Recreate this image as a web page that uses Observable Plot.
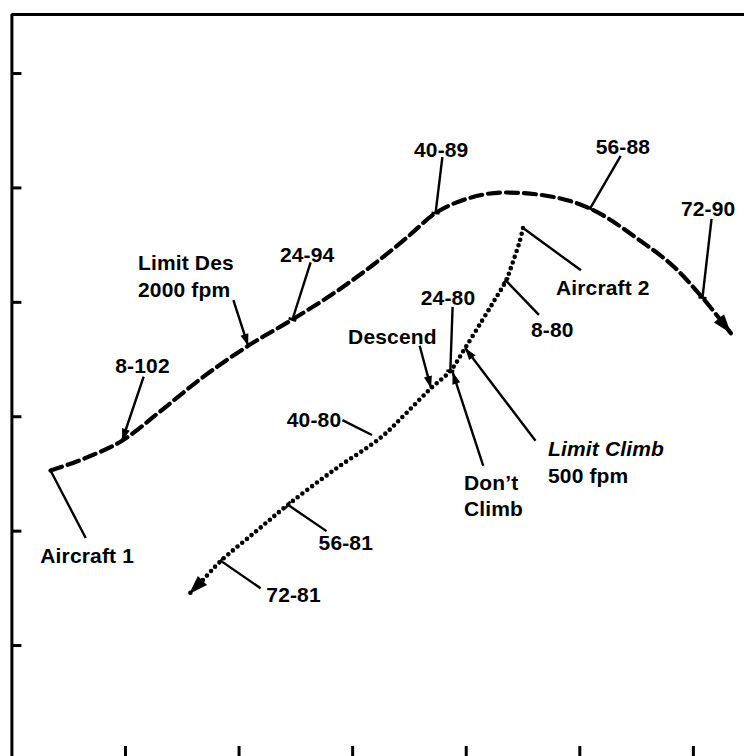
<!DOCTYPE html>
<html><head><meta charset="utf-8">
<script src="https://cdn.jsdelivr.net/npm/d3@7"></script>
<script src="https://cdn.jsdelivr.net/npm/@observablehq/plot@0.6"></script>
<style>
html,body{margin:0;padding:0;background:#fff;}
#chart svg{display:block}
#chart svg text{letter-spacing:0.15px}
</style></head><body><div id="chart"></div>
<script>
// Axis ticks (unlabelled in the original)
const xTicks = [1, 2, 3, 4, 5, 6];
const yTicks = [1, 2, 3, 4, 5, 6];
const xDomain = [0, 6.45];
const yDomain = [0.03, 6.516];

// Aircraft 1 track (dashed)
const aircraft1X = [0.34, 0.65, 0.97, 1.31, 1.66, 2.08, 2.47, 2.85, 3.17, 3.47, 3.73, 3.99, 4.34, 4.65, 5.09, 5.53, 5.84, 6.08, 6.33];
const aircraft1Y = [2.53, 2.64, 2.79, 3.05, 3.33, 3.62, 3.85, 4.09, 4.32, 4.56, 4.78, 4.90, 4.96, 4.94, 4.82, 4.54, 4.30, 4.04, 3.73];

// Aircraft 2 track (dotted)
const aircraft2X = [4.50, 4.47, 4.41, 4.35, 4.25, 4.14, 3.99, 3.86, 3.69, 3.47, 3.25, 2.83, 2.43, 2.14, 1.84, 1.66, 1.56];
const aircraft2Y = [4.65, 4.53, 4.35, 4.19, 4.02, 3.84, 3.60, 3.40, 3.25, 3.03, 2.82, 2.53, 2.23, 1.99, 1.74, 1.55, 1.45];

// Leader lines: from label side to the track
const leaderX1 = [0.65, 1.16, 1.95, 2.63, 3.79, 5.36, 6.16, 5.01, 4.64, 3.88, 3.59, 4.15, 4.61, 2.91, 2.77, 2.19];
const leaderY1 = [1.94, 3.35, 4.02, 4.35, 5.27, 5.28, 4.73, 4.28, 3.89, 3.96, 3.62, 2.57, 2.79, 2.97, 2.00, 1.50];
const leaderX2 = [0.34, 0.97, 2.08, 2.47, 3.73, 5.09, 6.08, 4.50, 4.35, 3.86, 3.69, 3.88, 3.99, 3.17, 2.43, 1.84];
const leaderY2 = [2.53, 2.79, 3.62, 3.85, 4.78, 4.82, 4.04, 4.65, 4.19, 3.40, 3.25, 3.39, 3.60, 2.84, 2.23, 1.74];
const leaderEnd = ["none", "arrow", "arrow", "bar", "bar", "bar", "bar", "none", "bar", "bar", "arrow", "arrow", "arrow", "none", "bar", "bar"];

// Labels (left edge, top of capitals)
const labelText = ["Aircraft 1", "8-102", "Limit Des\n2000 fpm", "24-94", "40-89", "56-88", "72-90", "Aircraft 2", "8-80", "24-80", "Descend", "Don\u2019t\nClimb", "500 fpm", "40-80", "56-81", "72-81"];
const labelX = [0.25, 0.91, 1.11, 2.36, 3.54, 5.14, 5.89, 4.79, 4.57, 3.60, 2.96, 3.98, 4.72, 2.42, 2.70, 2.24];
const labelY = [1.88, 3.54, 4.44, 4.51, 5.43, 5.46, 4.92, 4.23, 3.86, 4.14, 3.80, 2.52, 2.58, 3.07, 2.00, 1.54];
const italicText = ["Limit Climb"];
const italicX = [4.72];
const italicY = [2.79];

// ---- build tables ----
const W = 744, H = 756, mL = 11.4, mR = 0, mT = 14, mB = 0;
const kx = (W - mL - mR) / (xDomain[1] - xDomain[0]);
const ky = (H - mT - mB) / (yDomain[1] - yDomain[0]);
const angle = (x1, y1, x2, y2) => Math.atan2((x2 - x1) * kx, (y2 - y1) * ky) * 180 / Math.PI;

const track1 = aircraft1X.map((x, i) => ({x, y: aircraft1Y[i]}));
const track2 = aircraft2X.map((x, i) => ({x, y: aircraft2Y[i]}));
const leaders = leaderX1.map((x1, i) => ({x1, y1: leaderY1[i], x2: leaderX2[i], y2: leaderY2[i], end: leaderEnd[i],
  rot: angle(x1, leaderY1[i], leaderX2[i], leaderY2[i])}));
const labels = labelText.map((text, i) => ({text, x: labelX[i], y: labelY[i]}));
const italics = italicText.map((text, i) => ({text, x: italicX[i], y: italicY[i]}));

const n1 = track1.length, n2 = track2.length;
const trackHeads = [
  {x: track1[n1 - 1].x, y: track1[n1 - 1].y, rot: angle(track1[n1 - 2].x, track1[n1 - 2].y, track1[n1 - 1].x, track1[n1 - 1].y)},
  {x: track2[n2 - 1].x, y: track2[n2 - 1].y, rot: angle(track2[n2 - 2].x, track2[n2 - 2].y, track2[n2 - 1].x, track2[n2 - 1].y)}
];

const headSymbol = {draw(ctx, size) {
  const r = Math.sqrt(size / Math.PI), w = r * 0.34;
  ctx.moveTo(0, 0); ctx.lineTo(-w, r); ctx.lineTo(w, r); ctx.closePath();
}};
const barSymbol = {draw(ctx, size) {
  const r = Math.sqrt(size / Math.PI);
  ctx.moveTo(-r, 0); ctx.lineTo(r, 0);
}};

const chart = Plot.plot({
  width: W, height: H,
  marginLeft: mL, marginRight: mR, marginTop: mT, marginBottom: mB,
  x: {domain: xDomain, axis: null},
  y: {domain: yDomain, axis: null},
  style: {fontFamily: "'Liberation Sans', Arial, Helvetica, sans-serif", fontSize: "21px", fontWeight: "bold", background: "#fff", color: "#000"},
  marks: [
    Plot.ruleX([xDomain[0]], {strokeWidth: 3}),
    Plot.ruleY([yDomain[1]], {strokeWidth: 3}),
    Plot.axisY(yTicks, {anchor: "left", tickSize: 10, dx: 10, strokeWidth: 3, tickFormat: () => "", label: null}),
    Plot.axisX(xTicks, {anchor: "bottom", tickSize: 10, dy: -10, strokeWidth: 3, tickFormat: () => "", label: null}),
    Plot.line(track1, {x: "x", y: "y", curve: "monotone-x", strokeWidth: 4.2, strokeDasharray: "12 6"}),
    Plot.line(track2, {x: "x", y: "y", curve: "catmull-rom", strokeWidth: 4.6, strokeDasharray: "0 6", strokeLinecap: "round"}),
    Plot.dot(trackHeads, {x: "x", y: "y", rotate: "rot", symbol: headSymbol, r: 19, fill: "#000", stroke: "none"}),
    Plot.link(leaders, {x1: "x1", y1: "y1", x2: "x2", y2: "y2", strokeWidth: 2.4}),
    Plot.dot(leaders.filter(d => d.end === "arrow"), {x: "x2", y: "y2", rotate: "rot", symbol: headSymbol, r: 12, fill: "#000", stroke: "none"}),
    Plot.dot(leaders.filter(d => d.end === "bar"), {x: "x2", y: "y2", rotate: "rot", symbol: barSymbol, r: 4, fill: "none", stroke: "#000", strokeWidth: 2.5}),
    Plot.text(labels, {x: "x", y: "y", text: "text", textAnchor: "start", lineAnchor: "top", lineHeight: 1.24, fontSize: 21, fontWeight: "bold", fill: "#000"}),
    Plot.text(italics, {x: "x", y: "y", text: "text", textAnchor: "start", lineAnchor: "top", fontSize: 21, fontWeight: "bold", fontStyle: "italic", fill: "#000"})
  ]
});
document.getElementById("chart").appendChild(chart);
</script>
</body></html>
